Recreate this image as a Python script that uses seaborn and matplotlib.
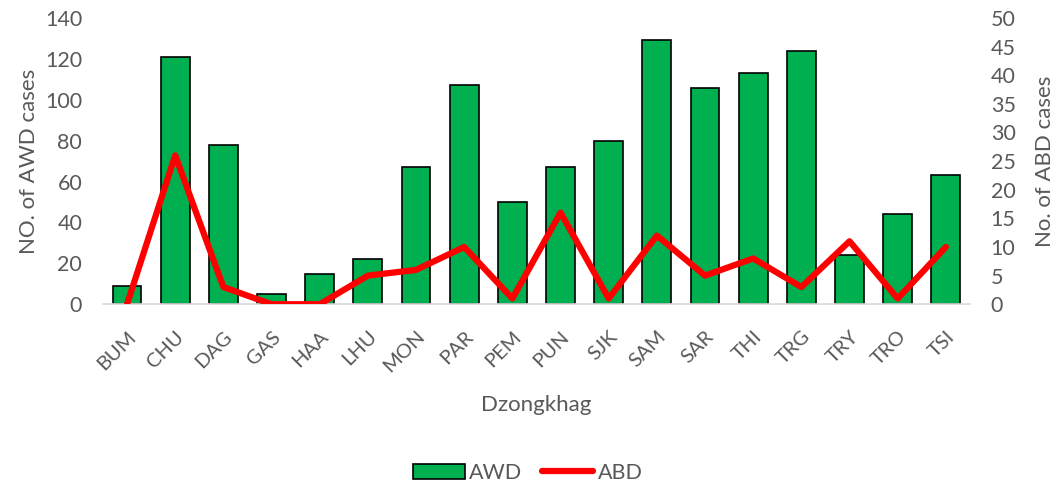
import matplotlib
matplotlib.use("Agg")
import matplotlib.pyplot as plt
import seaborn as sns
import pandas as pd
from matplotlib.patches import Patch
from matplotlib.lines import Line2D

categories = ["BUM", "CHU", "DAG", "GAS", "HAA", "LHU", "MON", "PAR", "PEM",
              "PUN", "SJK", "SAM", "SAR", "THI", "TRG", "TRY", "TRO", "TSI"]
awd = [9, 121, 78, 5, 15, 22, 67, 107, 50, 67, 80, 129, 106, 113, 124, 24, 44, 63]
abd = [0, 26, 3, 0, 0, 5, 6, 10, 1, 16, 1, 12, 5, 8, 3, 11, 1, 10]
left_ticks = [0, 20, 40, 60, 80, 100, 120, 140]
right_ticks = [0, 5, 10, 15, 20, 25, 30, 35, 40, 45, 50]

sns.set_style("white")
plt.rcParams["font.family"] = ["Lato", "DejaVu Sans"]
GRAY = "#595959"

df = pd.DataFrame({"Dzongkhag": categories, "AWD": awd, "ABD": abd})

fig = plt.figure(figsize=(10.56, 4.86), dpi=100)
ax = fig.add_axes([0.0975, 0.374, 0.821, 0.589])

sns.barplot(data=df, x="Dzongkhag", y="AWD", ax=ax, color="#00B050",
            saturation=1, width=0.6, edgecolor="black", linewidth=1.2,
            zorder=2)
ax.set_xlim(-0.5, len(categories) - 0.5)
ax.set_ylim(0, 140)
ax.set_yticks(left_ticks)
ax.set_ylabel("NO. of AWD cases", fontsize=16, color=GRAY, labelpad=4)
ax.set_xlabel("Dzongkhag", fontsize=16, color=GRAY, labelpad=14)
ax.tick_params(axis="y", length=0, labelsize=15.5, colors=GRAY, pad=15)
ax.tick_params(axis="x", length=0, labelsize=14.5, colors=GRAY, pad=17)
for lab in ax.get_xticklabels():
    lab.set_rotation(45)
    lab.set_ha("right")
    lab.set_rotation_mode("anchor")
for s in ["top", "right", "left"]:
    ax.spines[s].set_visible(False)
ax.spines["bottom"].set_color("#D9D9D9")
ax.spines["bottom"].set_linewidth(1.2)

ax2 = ax.twinx()
sns.lineplot(data=df, x="Dzongkhag", y="ABD", ax=ax2, color="#FF0000",
             linewidth=4.5, sort=False, zorder=3)
ax2.set_ylim(0, 50)
ax2.set_yticks(right_ticks)
ax2.set_ylabel("No. of ABD cases", fontsize=16, color=GRAY, labelpad=14)
ax2.tick_params(axis="y", length=0, labelsize=15.5, colors=GRAY, pad=15)
for s in ["top", "right", "left", "bottom"]:
    ax2.spines[s].set_visible(False)

handles = [Patch(facecolor="#00B050", edgecolor="black", linewidth=1.2),
           Line2D([0], [0], color="#FF0000", linewidth=4.5)]
fig.legend(handles, ["AWD", "ABD"], loc="center", bbox_to_anchor=(0.5, 0.027),
           ncol=2, frameon=False, fontsize=15.5, handlelength=2.4,
           handletextpad=0.2, columnspacing=0.9, labelcolor=GRAY)

fig.savefig("out.png", dpi=100)
